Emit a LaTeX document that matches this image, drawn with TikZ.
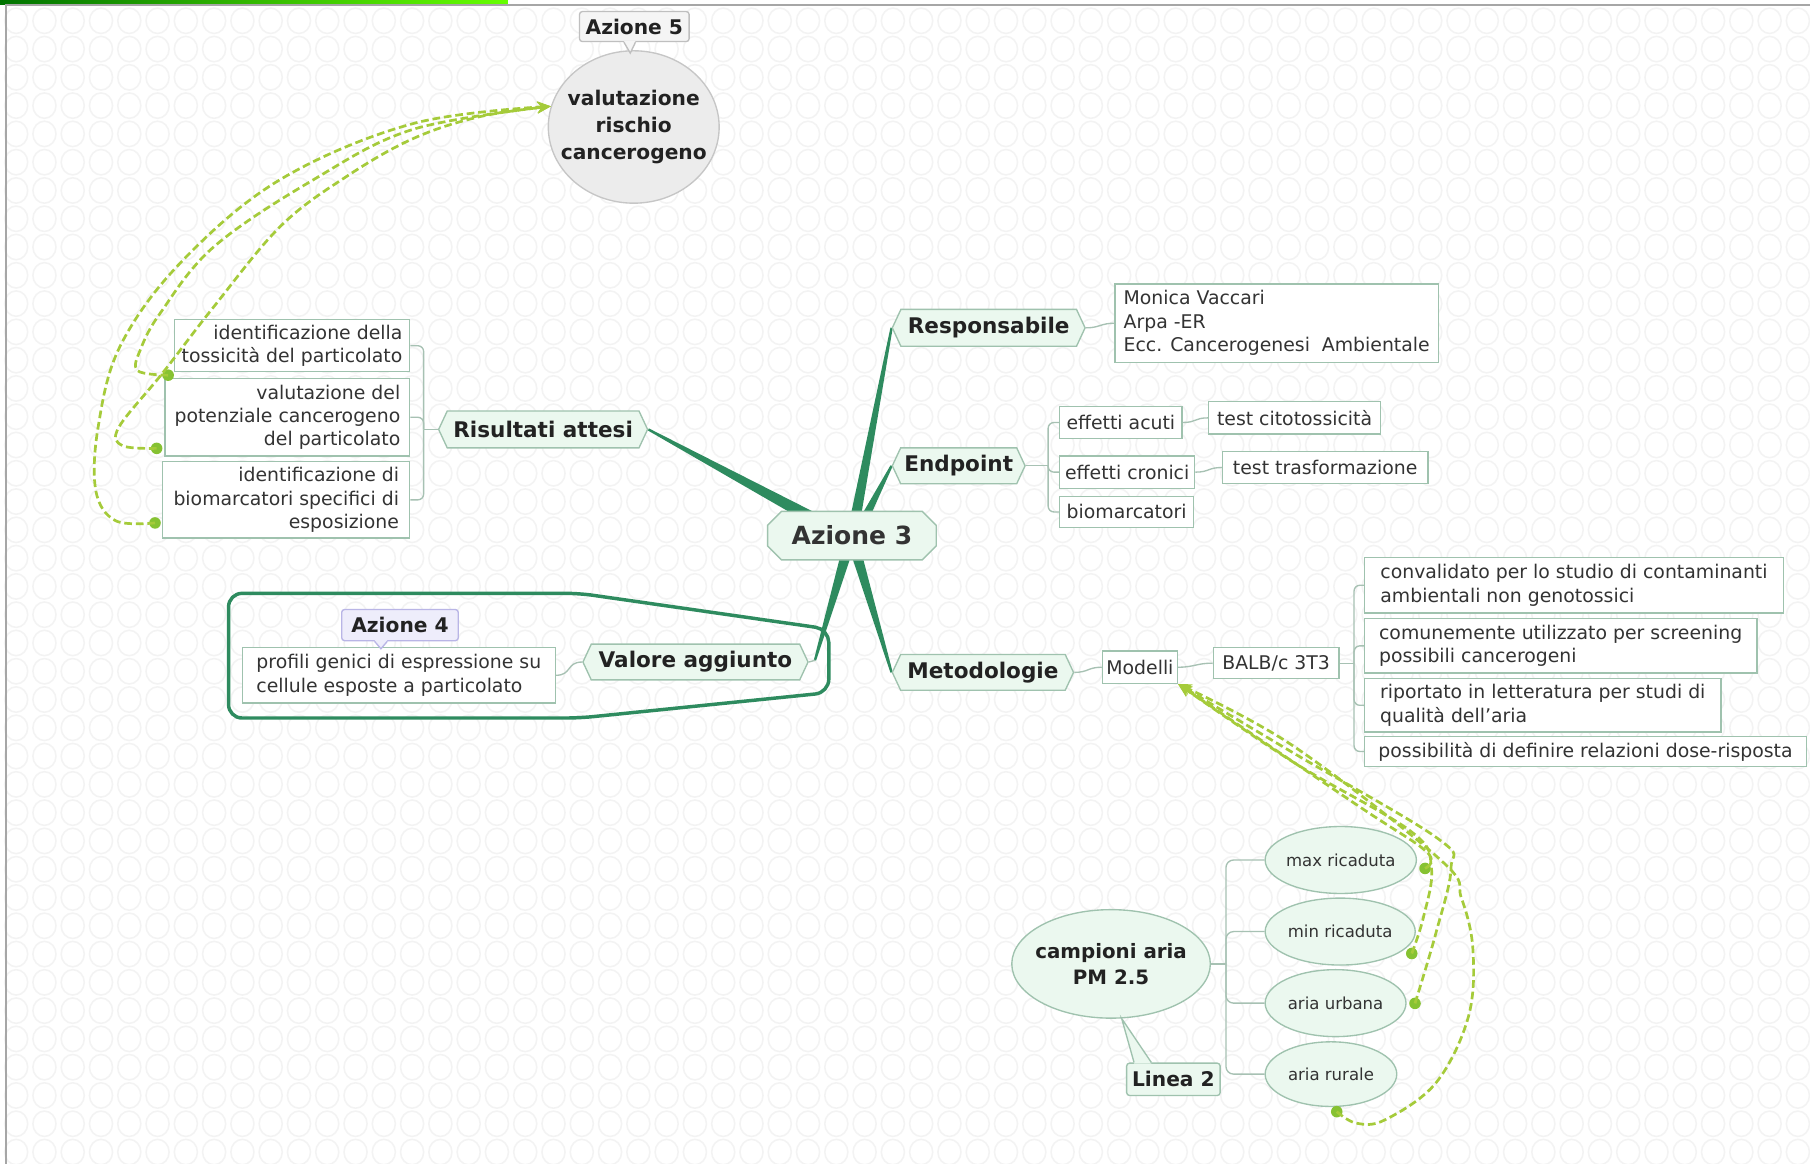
\documentclass[tikz,border=0pt]{standalone}
\usepackage{fontspec}
\setmainfont{DejaVu Sans}
\usetikzlibrary{shapes.geometric,shapes.misc,shapes.symbols,calc,arrows.meta}
\definecolor{branchcol}{HTML}{2E8B5F}
\definecolor{mint}{HTML}{EBF8EF}
\definecolor{mintline}{HTML}{9FC2AE}
\definecolor{conncol}{HTML}{A7C1B3}
\definecolor{relcol}{HTML}{A5CB3A}
\definecolor{dotcol}{HTML}{86C232}
\definecolor{txt}{HTML}{222222}
\definecolor{txtr}{HTML}{333333}
\definecolor{pattcol}{HTML}{F3F3F3}
\definecolor{lav}{HTML}{EEEDFB}
\definecolor{lavline}{HTML}{B9B5E6}
\definecolor{circfill}{HTML}{ECECEC}
\definecolor{circline}{HTML}{C6C6C6}
\pgfdeclarelayer{pat}
\pgfdeclarelayer{bg}
\pgfsetlayers{pat,bg,main}
\newcommand{\branchfill}[3]{\fill[branchcol] ($(#1)!#3!90:(#2)$) -- ($(#2)!0.6pt!-90:(#1)$) -- ($(#2)!0.6pt!90:(#1)$) -- ($(#1)!#3!-90:(#2)$) -- cycle;}
\begin{document}
\begin{tikzpicture}[x=0.6pt,y=-0.6pt,
  hexnode/.style={signal, signal to=west and east, signal pointer angle=130, draw=mintline, fill=mint, line width=0.7pt, font=\fontsize{11.2}{13}\selectfont\bfseries, text=txt, inner sep=0pt},
  boxnode/.style={rectangle, draw=mintline, fill=white, line width=0.7pt, font=\fontsize{9.8}{12.2}\selectfont, text=txtr, inner xsep=1.8pt, inner ysep=0pt},
  ovalnode/.style={ellipse, draw=mintline, fill=mint, line width=0.7pt, font=\fontsize{8.6}{10}\selectfont, text=txtr, inner xsep=-4pt, inner ysep=-2pt},
  callbox/.style={rectangle, rounded corners=1.5pt, line width=0.7pt, font=\fontsize{10.5}{12}\selectfont\bfseries, text=txt, inner sep=0pt},
  cn/.style={draw=conncol, line width=0.7pt},
  relcurve/.style={draw=relcol, line width=1.4pt, dash pattern=on 4pt off 2pt, -{Stealth[length=7pt,width=6pt]}},
  rdot/.style={circle, fill=dotcol, minimum size=6pt, inner sep=0pt},
]
\useasboundingbox (0,0) rectangle (1568,1008);
\begin{pgfonlayer}{pat}
\fill[white] (0,0) rectangle (1568,1008);
\foreach \i in {0,...,63} {
  \foreach \j in {0,...,40} {
    \draw[pattcol, line width=0.8pt] (14+\i*24.5, 18+\j*24.5) ellipse [x radius=6pt, y radius=6.6pt];
  }
}
\shade[left color=green!45!black, right color=green!60!yellow] (0,0) rectangle (440,3.5);
\draw[gray!70, line width=0.9pt] (5,1008) -- (5,4.5) -- (1568,4.5);
\end{pgfonlayer}

% central node
\node[chamfered rectangle, chamfered rectangle xsep=3.6pt, chamfered rectangle ysep=3.6pt, draw=mintline, fill=mint, line width=0.7pt, minimum width=87.6pt, minimum height=25.2pt, inner sep=0pt, font=\fontsize{13}{15}\selectfont\bfseries, text=txtr] (az3) at (738,464) {Azione 3};

% main topics
\node[hexnode, minimum width=100.2pt, minimum height=19.2pt] (resp) at (856.5,284) {Responsabile};
\node[hexnode, minimum width=69pt, minimum height=18.6pt] (endp) at (830.5,403.5) {Endpoint};
\node[hexnode, minimum width=94.2pt, minimum height=18.6pt] (metod) at (851.5,582.5) {Metodologie};
\node[hexnode, minimum width=108.6pt, minimum height=19.2pt] (risult) at (470.5,372) {Risultati attesi};
\node[hexnode, minimum width=117pt, minimum height=18.6pt] (valore) at (602.5,573.5) {Valore aggiunto};

% boxes
\node[boxnode, minimum width=168pt, minimum height=40.8pt, align=left] (respbox) at (1106,280) {Monica Vaccari\\Arpa -ER\\Ecc. Cancerogenesi\ \ Ambientale};
\node[boxnode, minimum width=63.6pt, minimum height=16.8pt] (acuti) at (971,366) {effetti acuti};
\node[boxnode, minimum width=70.2pt, minimum height=16.8pt] (cronici) at (976.5,409) {effetti cronici};
\node[boxnode, minimum width=69.6pt, minimum height=16.2pt] (biom) at (976,443.5) {biomarcatori};
\node[boxnode, minimum width=89.4pt, minimum height=16.8pt] (citotox) at (1121.5,362) {test citotossicità};
\node[boxnode, minimum width=106.8pt, minimum height=16.8pt] (trasf) at (1148,405) {test trasformazione};
\node[boxnode, minimum width=39pt, minimum height=16.8pt] (modelli) at (987.5,578) {Modelli};
\node[boxnode, minimum width=65.4pt, minimum height=16.2pt] (balb) at (1105.5,574.5) {BALB/c 3T3};
\node[boxnode, minimum width=217.8pt, minimum height=28.8pt, align=left] (conv) at (1363.5,507) {convalidato per lo studio di contaminanti\\ambientali non genotossici};
\node[boxnode, minimum width=204pt, minimum height=28.2pt, align=left] (comun) at (1352,559.5) {comunemente utilizzato per screening\\possibili cancerogeni};
\node[boxnode, minimum width=185.4pt, minimum height=27.6pt, align=left] (ripor) at (1336.5,611) {riportato in letteratura per studi di\\qualità dell'aria};
\node[boxnode, minimum width=229.8pt, minimum height=15.6pt] (possib) at (1373.5,651) {possibilità di definire relazioni dose-risposta};
\node[boxnode, minimum width=122.4pt, minimum height=27pt, align=right] (ris1) at (253,299.5) {identificazione della\\tossicità del particolato};
\node[boxnode, minimum width=127.2pt, minimum height=40.2pt, align=right] (ris2) at (249,361.5) {valutazione del\\potenziale cancerogeno\\del particolato};
\node[boxnode, minimum width=128.4pt, minimum height=39.6pt, align=right] (ris3) at (248,433) {identificazione di\\biomarcatori specifici di\\esposizione};
\node[boxnode, minimum width=162.6pt, minimum height=28.8pt, align=left] (profili) at (345.5,585) {profili genici di espressione su\\cellule esposte a particolato};

% ellipses
\node[ovalnode, minimum width=103.2pt, minimum height=56.4pt, font=\fontsize{10.3}{13.8}\selectfont\bfseries, text=txt, align=center, inner xsep=-8pt, inner ysep=-6pt] (camp) at (962.5,835) {campioni aria\\PM 2.5};
\node[ovalnode, minimum width=78.6pt, minimum height=34.8pt] (max) at (1161.5,745) {max ricaduta};
\node[ovalnode, minimum width=78pt, minimum height=34.8pt] (min) at (1161,807) {min ricaduta};
\node[ovalnode, minimum width=73.2pt, minimum height=34.8pt] (urb) at (1157,869) {aria urbana};
\node[ovalnode, minimum width=68.4pt, minimum height=33.6pt] (rur) at (1153,930.5) {aria rurale};

\node[ellipse, draw=circline, fill=circfill, line width=0.7pt, minimum width=88.8pt, minimum height=79.2pt, inner xsep=-12pt, inner ysep=-8pt, align=center, font=\fontsize{10.5}{14}\selectfont\bfseries, text=txt] (az5c) at (549,110) {valutazione\\rischio\\cancerogeno};

% callouts
\node[callbox, fill=gray!8, draw=gray!50, minimum width=57pt, minimum height=15.6pt] (az5) at (549.5,23) {Azione 5};
\fill[gray!8] ($(az5.south)+(-9,-1)$) -- (546,46) -- ($(az5.south)+(1,-1)$) -- cycle;
\draw[gray!50, line width=0.7pt] ($(az5.south)+(-9,0)$) -- (546,46) -- ($(az5.south)+(1,0)$);
\node[callbox, fill=lav, draw=lavline, minimum width=60.6pt, minimum height=16.2pt] (az4) at (346.5,541.5) {Azione 4};
\fill[lav] ($(az4.south)+(-22,-1)$) -- (330,562) -- ($(az4.south)+(-11,-1)$) -- cycle;
\draw[lavline, line width=0.7pt] ($(az4.south)+(-22,0)$) -- (330,562) -- ($(az4.south)+(-11,0)$);
\node[callbox, fill=mint, draw=mintline, minimum width=48.6pt, minimum height=16.8pt] (lin2) at (1016.5,935) {Linea 2};
\fill[mint] ($(lin2.north west)+(7,1)$) -- (camp.281) -- ($(lin2.north west)+(22,1)$) -- cycle;
\draw[mintline, line width=0.7pt] ($(lin2.north west)+(7,0)$) -- (camp.281) -- ($(lin2.north west)+(22,0)$);

% branches
\coordinate (bR) at (741,449);
\coordinate (bE) at (749,449);
\coordinate (bL) at (704,449);
\coordinate (bV) at (733,480);
\coordinate (bM) at (742,480);
\coordinate (vE) at (706,572);
\begin{pgfonlayer}{bg}
\branchfill{bR}{resp.west}{2.7pt}
\branchfill{bE}{endp.west}{2.2pt}
\branchfill{bL}{risult.east}{3.2pt}
\branchfill{bV}{vE}{2.7pt}
\branchfill{bM}{metod.west}{2.7pt}
\end{pgfonlayer}
\draw[cn] (vE) -- (valore.east);

% boundary
\draw[branchcol, line width=1.8pt, rounded corners=7pt] (198,514) -- (502,514) -- (718,545) -- (718,600) -- (502,622) -- (198,622) -- cycle;

% thin connectors
\draw[cn] (resp.east) .. controls +(12,0) and +(-12,0) .. (respbox.west);
\coordinate (ej) at (908,403.5);
\draw[cn] (endp.east) -- (ej);
\draw[cn, rounded corners=3pt] (ej) |- (acuti.west);
\draw[cn, rounded corners=3pt] (ej) |- (cronici.west);
\draw[cn, rounded corners=3pt] (ej) |- (biom.west);
\draw[cn] (acuti.east) .. controls +(12,0) and +(-12,0) .. (citotox.west);
\draw[cn] (cronici.east) .. controls +(12,0) and +(-12,0) .. (trasf.west);
\draw[cn] (metod.east) .. controls +(12,0) and +(-12,0) .. (modelli.west);
\draw[cn] (modelli.east) .. controls +(14,0) and +(-14,0) .. (balb.west);
\coordinate (bj) at (1173,574.5);
\draw[cn] (balb.east) -- (bj);
\draw[cn, rounded corners=3pt] (bj) |- (conv.west);
\draw[cn, rounded corners=3pt] (bj) |- (comun.west);
\draw[cn, rounded corners=3pt] (bj) |- (ripor.west);
\draw[cn, rounded corners=3pt] (bj) |- (possib.west);
\coordinate (rj) at (367,372);
\draw[cn] (risult.west) -- (rj);
\draw[cn, rounded corners=3pt] (rj) |- (ris1.east);
\draw[cn, rounded corners=3pt] (rj) |- (ris2.east);
\draw[cn, rounded corners=3pt] (rj) |- (ris3.east);
\draw[cn] (valore.west) .. controls +(-14,0) and +(14,0) .. (profili.east);
\coordinate (cj) at (1062,835);
\draw[cn] (camp.east) -- (cj);
\draw[cn, rounded corners=4pt] (cj) |- (max.west);
\draw[cn, rounded corners=4pt] (cj) |- (min.west);
\draw[cn, rounded corners=4pt] (cj) |- (urb.west);
\draw[cn, rounded corners=4pt] (cj) |- (rur.west);

% relationship curves
\node[rdot] (d1) at (145.7,325) {};
\node[rdot] (d2) at (135.7,388.4) {};
\node[rdot] (d3) at (134.3,453) {};
\draw[relcurve] plot[smooth, tension=0.6] coordinates {(d1.center) (119,321) (122,302) (139,271) (185,214) (271,156) (358,112) (az5c.166)};
\draw[relcurve] plot[smooth, tension=0.6] coordinates {(d2.center) (106,386) (103,370) (141,323) (185,266) (243,196) (300,153) (358,120) (416,101) (az5c.166)};
\draw[relcurve] plot[smooth, tension=0.6] coordinates {(d3.center) (100,451) (83,425) (85,370) (104,300) (156,228) (242,156) (358,107) (az5c.166)};

\node[rdot] (dmax) at (1234.5,752.3) {};
\node[rdot] (dmin) at (1223,826) {};
\node[rdot] (durb) at (1225.8,869.2) {};
\node[rdot] (drur) at (1158,963) {};
\draw[relcurve] plot[smooth, tension=0.6] coordinates {(dmax.center) (1236,738) (1175,697) (modelli.south east)};
\draw[relcurve] plot[smooth, tension=0.6] coordinates {(dmin.center) (1233,795) (1240,752) (1222,720) (1120,660) (modelli.south east)};
\draw[relcurve] plot[smooth, tension=0.6] coordinates {(durb.center) (1244,808) (1257,752) (1245,726) (1120,652) (modelli.south east)};
\draw[relcurve] plot[smooth, tension=0.6] coordinates {(drur.center) (1175,973) (1200,970) (1244,938) (1272,881) (1276,823) (1266,778) (1248,745) (1120,646) (modelli.south east)};
\end{tikzpicture}
\end{document}
